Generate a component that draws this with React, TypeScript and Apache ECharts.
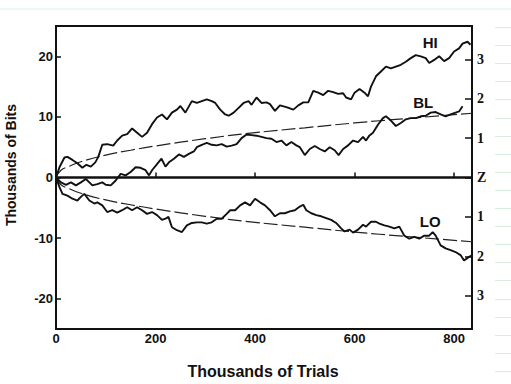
import React, { useEffect, useRef } from "react";
import * as echarts from "echarts";

// Thousands of trials vs thousands of bits (cumulative deviation)
const hiData: number[][] = [
  [0, 0], [7, 1.7], [17, 3.3], [23, 3.4], [33, 2.9], [43, 2.35], [53, 1.6], [61, 2.1], [70, 1.8], [79, 2.5],
  [85, 3.4], [93, 5.4], [103, 5.5], [115, 5.25], [123, 6.1], [133, 6.9], [143, 7.15], [153, 8.1], [163, 7.4],
  [173, 6.7], [183, 7.4], [193, 8.8], [203, 9.9], [213, 10.4], [223, 9.6], [233, 10.7], [243, 11.2], [250, 11.8],
  [260, 10.7], [273, 12.6], [283, 12.3], [293, 12.6], [303, 12.9], [313, 12.6], [320, 12.3], [330, 11.2],
  [340, 10.4], [347, 10.2], [357, 10.7], [367, 11.5], [377, 12.3], [387, 12.6], [393, 12.0], [403, 13.2],
  [413, 12.3], [423, 12.4], [430, 12.1], [440, 11.0], [450, 11.9], [463, 11.6], [477, 11.2], [487, 11.9],
  [497, 12.4], [507, 12.4], [517, 14.3], [527, 14.0], [537, 13.6], [547, 14.3], [557, 14.1], [567, 13.8],
  [577, 13.9], [583, 13.2], [593, 12.9], [600, 14.0], [610, 14.6], [620, 14.0], [627, 13.4], [633, 15.0],
  [643, 16.7], [653, 17.5], [663, 18.3], [673, 18.0], [683, 18.3], [693, 18.6], [703, 19.1], [713, 19.7],
  [723, 20.2], [733, 20.0], [743, 19.7], [750, 18.9], [760, 19.4], [770, 20.0], [780, 19.2], [790, 19.7],
  [800, 20.8], [810, 21.3], [817, 22.1], [827, 22.4], [833, 21.9],
];

const blData: number[][] = [
  [0, 0], [10, -0.8], [20, -1.2], [30, -0.8], [40, -1.3], [50, -0.8], [60, -0.25], [67, -0.8], [73, -1.3],
  [83, -1.1], [93, -0.8], [100, -1.2], [110, -1.3], [120, -0.5], [130, 0.6], [140, 0.35], [150, 0.9],
  [160, 1.7], [170, 1.6], [180, 1.2], [187, 0.35], [193, 1.2], [203, 2.2], [212, 3.1], [220, 1.8],
  [227, 2.5], [237, 3.1], [247, 3.8], [257, 3.4], [267, 3.9], [277, 4.3], [283, 5.0], [293, 5.4], [303, 5.7],
  [313, 5.4], [323, 5.3], [333, 5.5], [343, 5.1], [353, 5.25], [363, 5.5], [373, 6.5], [383, 7.1], [393, 7.0],
  [403, 6.9], [413, 6.7], [423, 6.5], [433, 6.4], [443, 5.85], [453, 6.1], [463, 5.3], [473, 5.85], [483, 5.3],
  [490, 5.0], [500, 3.7], [510, 4.7], [520, 5.2], [530, 4.7], [540, 4.3], [550, 5.0], [560, 4.5], [568, 3.7],
  [577, 4.7], [587, 5.3], [597, 6.1], [607, 5.85], [617, 6.7], [623, 6.1], [630, 6.95], [637, 7.4], [647, 8.7],
  [657, 9.8], [663, 10.1], [673, 9.4], [683, 8.5], [693, 9.0], [703, 9.6], [713, 9.8], [723, 9.8], [733, 10.1],
  [743, 10.2], [753, 10.7], [763, 10.8], [773, 10.4], [783, 10.1], [793, 10.4], [803, 10.7], [810, 10.9],
  [817, 11.75],
];

const loData: number[][] = [
  [0, 0], [7, -1.6], [13, -2.7], [23, -3.0], [33, -3.5], [43, -3.8], [50, -3.2], [57, -2.7], [67, -3.8],
  [77, -4.3], [83, -4.1], [93, -4.6], [103, -5.7], [113, -5.4], [123, -5.8], [133, -5.4], [143, -4.9],
  [153, -5.4], [163, -4.9], [173, -5.4], [183, -6.0], [193, -5.7], [203, -6.2], [213, -7.0], [220, -6.8],
  [226, -6.5], [233, -8.2], [243, -8.7], [253, -9.0], [263, -7.9], [273, -7.5], [283, -7.4], [293, -7.4],
  [303, -7.6], [313, -7.4], [323, -6.8], [333, -6.8], [343, -6.0], [350, -5.4], [360, -5.4], [370, -4.6],
  [380, -4.1], [390, -4.6], [400, -3.5], [410, -4.1], [420, -4.6], [430, -5.4], [440, -6.4], [450, -5.9],
  [460, -5.9], [470, -5.6], [480, -5.4], [490, -4.8], [497, -4.5], [503, -5.4], [513, -5.9], [523, -6.2],
  [533, -6.4], [543, -6.7], [553, -7.0], [563, -7.5], [573, -8.4], [580, -8.9], [590, -8.6], [597, -9.1],
  [607, -8.6], [617, -7.8], [623, -8.1], [633, -7.3], [643, -7.3], [650, -7.6], [660, -7.9], [670, -8.1],
  [680, -8.4], [690, -8.1], [700, -9.6], [710, -10.1], [720, -9.8], [730, -10.1], [740, -9.6], [750, -9.6],
  [757, -9.0], [763, -9.6], [773, -11.2], [783, -11.7], [793, -12.0], [803, -12.3], [813, -12.8], [820, -13.7],
  [830, -13.1], [837, -12.8],
];

// envelope curves
const envX: number[] = [0, 10, 25, 50, 100, 150, 200, 300, 400, 500, 600, 700, 836];
const envUpper: number[] = [0, 1.2, 1.8, 2.6, 3.7, 4.5, 5.2, 6.4, 7.4, 8.2, 9.0, 9.7, 10.6];
const envLower: number[] = [0, -1.2, -1.8, -2.6, -3.7, -4.5, -5.2, -6.4, -7.4, -8.2, -9.0, -9.7, -10.6];

const xTicks: number[] = [0, 200, 400, 600, 800];
const yTicks: number[] = [-20, -10, 0, 10, 20];
const zTicks: number[] = [-3, -2, -1, 0, 1, 2, 3];
const X_MAX = 836;
const Y_MAX = 25;
const SIGMA = 6.5; // thousands of bits per z unit at the end

export default function App() {
  const ref = useRef<HTMLDivElement>(null);
  useEffect(() => {
    if (!ref.current) return;
    const chart = echarts.init(ref.current, null, { renderer: "svg" });
    const sans = "'Liberation Sans', Arial, sans-serif";
    const serif = "'Liberation Serif', 'DejaVu Serif', serif";
    const ink = "#111";
    const walk = (name: string, data: number[][], lx: number, ly: number) => ({
      type: "line",
      name,
      data,
      showSymbol: false,
      symbol: "none",
      lineStyle: { color: ink, width: 1.9 },
      markPoint: {
        symbol: "circle",
        symbolSize: 0,
        data: [{ coord: [lx, ly] }],
        label: {
          show: true,
          position: "inside",
          formatter: name,
          color: ink,
          fontFamily: sans,
          fontWeight: "bold",
          fontSize: 15,
        },
      },
    });
    const env = (vals: number[]) => ({
      type: "line",
      data: envX.map((x, i) => [x, vals[i]]),
      smooth: true,
      showSymbol: false,
      symbol: "none",
      lineStyle: { color: "#222", width: 1.2, type: [14, 4] },
    });
    const faint: any[] = [
      { type: "line", shape: { x1: 0, y1: 9, x2: 511, y2: 9 }, style: { stroke: "#e0f1e6", lineWidth: 1 } },
    ];
    for (let i = 0; i < 20; i++) {
      const y = Math.round(27 + i * 18.1) + 0.5;
      faint.push({ type: "line", shape: { x1: 495, y1: y, x2: 511, y2: y }, style: { stroke: "#d8eee0", lineWidth: 1 } });
    }
    chart.setOption({
      animation: false,
      backgroundColor: "#fff",
      grid: { left: 56, right: 39, top: 26, bottom: 55, show: true, borderColor: ink, borderWidth: 2, backgroundColor: "transparent" },
      xAxis: {
        type: "value",
        min: 0,
        max: X_MAX,
        splitLine: { show: false },
        axisLine: { show: false },
        axisTick: { show: true, inside: true, length: 5, customValues: xTicks, lineStyle: { color: ink, width: 1.5 } },
        axisLabel: { customValues: xTicks, margin: 3, color: ink, fontFamily: sans, fontWeight: "bold", fontSize: 13 },
      },
      yAxis: [
        {
          type: "value",
          min: -Y_MAX,
          max: Y_MAX,
          splitLine: { show: false },
          axisLine: { show: false },
          axisTick: { show: true, inside: true, length: 5, customValues: yTicks, lineStyle: { color: ink, width: 1.5 } },
          axisLabel: { customValues: yTicks, margin: 3, color: ink, fontFamily: sans, fontWeight: "bold", fontSize: 13 },
        },
        {
          type: "value",
          position: "right",
          min: -Y_MAX / SIGMA,
          max: Y_MAX / SIGMA,
          splitLine: { show: false },
          axisLine: { show: false },
          axisTick: { show: true, inside: true, length: 7, customValues: zTicks, lineStyle: { color: ink, width: 1.5 } },
          axisLabel: {
            customValues: zTicks,
            margin: 5,
            color: ink,
            fontFamily: serif,
            fontWeight: "bold",
            fontSize: 14,
            formatter: (v: number) => (Math.abs(v) < 1e-9 ? "Z" : String(Math.round(Math.abs(v)))),
          },
        },
      ],
      graphic: [
        ...faint,
        {
          type: "text",
          x: 11,
          y: 165,
          rotation: Math.PI / 2,
          style: { text: "Thousands of Bits", fill: ink, font: `bold 14px ${sans}`, textAlign: "center", textVerticalAlign: "middle" },
        },
        {
          type: "text",
          x: 263,
          y: 371,
          style: { text: "Thousands of Trials", fill: ink, font: `bold 16px ${sans}`, textAlign: "center", textVerticalAlign: "middle" },
        },
      ],
      series: [
        {
          type: "line",
          data: [],
          markLine: {
            silent: true,
            symbol: "none",
            label: { show: false },
            data: [{ yAxis: 0 }],
            lineStyle: { color: ink, width: 2.5, type: "solid" },
          },
        },
        env(envUpper),
        env(envLower),
        walk("HI", hiData, 752, 22.3),
        walk("BL", blData, 738, 12.4),
        walk("LO", loData, 752, -7.3),
      ],
    });
    return () => chart.dispose();
  }, []);
  return <div ref={ref} style={{ position: "fixed", left: 0, top: 0, width: 511, height: 384, background: "#fff" }} />;
}
